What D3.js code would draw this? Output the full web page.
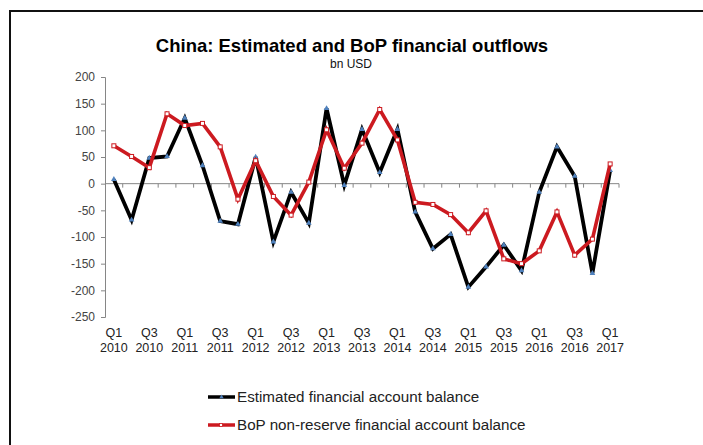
<!DOCTYPE html>
<html>
<head>
<meta charset="utf-8">
<script src="https://cdn.jsdelivr.net/npm/d3@7"></script>
<style>
  html, body { margin: 0; padding: 0; background: #fff; }
  svg { display: block; font-family: "Liberation Sans", Arial, sans-serif; }
</style>
</head>
<body>
<svg id="chart" width="703" height="445"></svg>
<script>
// Quarterly financial outflows, bn USD
const quarters = [
  "Q1 2010","Q2 2010","Q3 2010","Q4 2010",
  "Q1 2011","Q2 2011","Q3 2011","Q4 2011",
  "Q1 2012","Q2 2012","Q3 2012","Q4 2012",
  "Q1 2013","Q2 2013","Q3 2013","Q4 2013",
  "Q1 2014","Q2 2014","Q3 2014","Q4 2014",
  "Q1 2015","Q2 2015","Q3 2015","Q4 2015",
  "Q1 2016","Q2 2016","Q3 2016","Q4 2016",
  "Q1 2017"
];
const estimated = [8, -68, 48, 51, 123, 34, -70, -76, 50, -109, -16, -74,
  141, -3, 102, 21, 102, -53, -122, -95, -194, -156, -115, -163,
  -16, 69, 14, -168, 25];
const bop = [71, 51, 30, 131, 109, 113, 69, -29, 43, -24, -59, 3,
  101, 29, 76, 139, 82, -35, -39, -58, -92, -51, -141, -150,
  -126, -53, -134, -104, 37];
const yTicks = [200, 150, 100, 50, 0, -50, -100, -150, -200, -250];
const seriesNames = ["Estimated financial account balance", "BoP non-reserve financial account balance"];

const svg = d3.select("#chart");
const axisColor = "#868686";
const black = "#000000";
const red = "#cc1a20";
const blue = "#4f81bd";

// frame
svg.append("path")
  .attr("d", "M10,446 L10,11 L704,11")
  .attr("fill", "none").attr("stroke", "#111").attr("stroke-width", 2);

// title
svg.append("text").attr("x", 352).attr("y", 52).attr("text-anchor", "middle")
  .attr("font-size", 18.5).attr("font-weight", "bold").attr("fill", "#000")
  .text("China: Estimated and BoP financial outflows");
svg.append("text").attr("x", 351).attr("y", 68).attr("text-anchor", "middle")
  .attr("font-size", 12).attr("fill", "#111").text("bn USD");

const x = d3.scaleBand().domain(quarters).range([105, 619]).padding(0);
const y = d3.scaleLinear().domain([-250, 200]).range([317, 77]);

// y axis
const yAxis = svg.append("g").attr("transform", "translate(105,0)")
  .call(d3.axisLeft(y).tickValues(yTicks).tickFormat(d => String(d)).tickSize(4).tickPadding(6));
yAxis.select(".domain").attr("stroke", axisColor);
yAxis.selectAll(".tick line").attr("stroke", axisColor);
yAxis.selectAll(".tick text").attr("font-size", 12).attr("fill", "#444")
  .attr("font-family", "Liberation Sans, Arial, sans-serif");

// zero line with quarter separators
const zero = y(0);
svg.append("line").attr("x1", 105).attr("x2", 619).attr("y1", zero).attr("y2", zero)
  .attr("stroke", axisColor).attr("stroke-width", 1);
const bounds = quarters.map(q => x(q)).concat([x(quarters[quarters.length - 1]) + x.bandwidth()]);
svg.append("g").selectAll("line").data(bounds.slice(1)).join("line")
  .attr("x1", d => d).attr("x2", d => d)
  .attr("y1", zero).attr("y2", zero + 4)
  .attr("stroke", axisColor);

// category labels, every second quarter
const labelG = svg.append("g").attr("font-size", 12.5).attr("fill", "#222").attr("text-anchor", "middle");
quarters.forEach((q, i) => {
  if (i % 2 !== 0) return;
  const [qq, yr] = q.split(" ");
  const cx = x(q) + x.bandwidth() / 2;
  labelG.append("text").attr("x", cx).attr("y", 337).text(qq);
  labelG.append("text").attr("x", cx).attr("y", 351.5).text(yr);
});

const cxOf = i => x(quarters[i]) + x.bandwidth() / 2;
const line = d3.line().x((d, i) => cxOf(i)).y(d => y(d));

// estimated series
svg.append("path").datum(estimated).attr("d", line)
  .attr("fill", "none").attr("stroke", black).attr("stroke-width", 3.8)
  .attr("stroke-linejoin", "miter");
const tri = d3.symbol().type(d3.symbolTriangle).size(14);
svg.append("g").selectAll("path").data(estimated).join("path")
  .attr("d", tri)
  .attr("transform", (d, i) => `translate(${cxOf(i)},${y(d)})`)
  .attr("fill", blue);

// BoP series
svg.append("path").datum(bop).attr("d", line)
  .attr("fill", "none").attr("stroke", red).attr("stroke-width", 3.6)
  .attr("stroke-linejoin", "miter");
svg.append("g").selectAll("rect").data(bop).join("rect")
  .attr("x", (d, i) => cxOf(i) - 2).attr("y", d => y(d) - 2)
  .attr("width", 4).attr("height", 4)
  .attr("fill", "#fff").attr("stroke", red).attr("stroke-width", 1);

// legend
const legend = svg.append("g");
const legendRows = [
  { name: seriesNames[0], color: black, yy: 397, marker: "tri" },
  { name: seriesNames[1], color: red, yy: 425, marker: "sq" }
];
legendRows.forEach(r => {
  legend.append("line").attr("x1", 208).attr("x2", 235).attr("y1", r.yy).attr("y2", r.yy)
    .attr("stroke", r.color).attr("stroke-width", 3.5);
  if (r.marker === "tri") {
    legend.append("path").attr("d", d3.symbol().type(d3.symbolTriangle).size(8))
      .attr("transform", `translate(221.5,${r.yy})`).attr("fill", blue);
  } else {
    legend.append("rect").attr("x", 219.5).attr("y", r.yy - 1.5).attr("width", 3).attr("height", 3)
      .attr("fill", "#fff").attr("stroke", r.color).attr("stroke-width", 0.8);
  }
  legend.append("text").attr("x", 237).attr("y", r.yy + 5).attr("font-size", 15.2)
    .attr("fill", "#222").text(r.name);
});
</script>
</body>
</html>
